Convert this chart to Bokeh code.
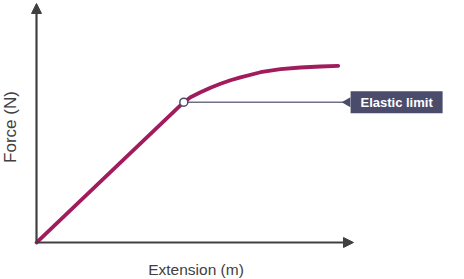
import math
from bokeh.plotting import figure
from bokeh.models import Range1d, Arrow, NormalHead, Label
from bokeh.core.properties import value
from bokeh.embed import file_html
from bokeh.resources import INLINE

# ---- data (arbitrary units) ----
extension = [0.0, 4.647, 4.858, 5.174, 5.489, 5.804, 6.120, 6.435, 7.066, 7.697, 8.328, 8.959, 9.517]
force = [0.0, 5.870, 6.079, 6.289, 6.473, 6.640, 6.787, 6.912, 7.125, 7.251, 7.322, 7.364, 7.393]
elastic_limit_ext = 4.647
elastic_limit_force = 5.870
axis_max = [10.0, 10.0]
x_title = "Extension (m)"
y_title = "Force (N)"
limit_text = "Elastic limit"

# ---- styling / layout ----
W, H = 464, 279
FONT = "Liberation Sans"
AXIS_COL = "#404040"
CURVE_COL = "#a01c5c"
BOX_COL = "#4b4b6b"
LINE_COL = "#707088"
LABEL_X = 11.36
LINE_END = 9.72

p = figure(width=W, height=H, output_backend="svg", toolbar_location=None,
           x_range=Range1d(-1.136, 13.502), y_range=Range1d(-1.548, 10.126),
           min_border=0, min_border_left=0, min_border_right=0,
           min_border_top=0, min_border_bottom=0)
p.axis.visible = False
p.grid.visible = False
p.outline_line_color = None
p.background_fill_color = "white"
p.border_fill_color = "white"

# axes with arrows
p.add_layout(Arrow(x_start=0, y_start=0, x_end=axis_max[0], y_end=0,
                   line_color=AXIS_COL, line_width=2.2,
                   end=NormalHead(size=10, fill_color=AXIS_COL, line_color=AXIS_COL)))
p.add_layout(Arrow(x_start=0, y_start=0, x_end=0, y_end=axis_max[1],
                   line_color=AXIS_COL, line_width=2.2,
                   end=NormalHead(size=10, fill_color=AXIS_COL, line_color=AXIS_COL)))

# elastic limit pointer line
p.line([elastic_limit_ext, LINE_END], [elastic_limit_force, elastic_limit_force],
       line_color=LINE_COL, line_width=1.5)

# curve
p.line(extension, force, line_color=CURVE_COL, line_width=3.8, line_cap="round", line_join="round")

# elastic limit point
p.scatter([elastic_limit_ext], [elastic_limit_force], size=8, marker="circle",
          fill_color="white", line_color=BOX_COL, line_width=1.5)

# label box + pointer triangle
p.rect([LABEL_X], [elastic_limit_force], width=92, height=22,
       width_units="screen", height_units="screen", fill_color=BOX_COL, line_color=None)
p.scatter([LINE_END + 0.09], [elastic_limit_force], marker="triangle", size=10,
          angle=math.pi / 2, fill_color=BOX_COL, line_color=None)
p.text([LABEL_X], [elastic_limit_force], text=[limit_text], text_align="center",
       text_baseline="middle", text_color="white", text_font=value(FONT),
       text_font_style="bold", text_font_size="13px")

# axis titles
p.add_layout(Label(x=195.5, y=H - 268.5, x_units="screen", y_units="screen", text=x_title,
                   text_align="center", text_baseline="middle", text_color=AXIS_COL,
                   text_font=FONT, text_font_size="15.5px"))
p.add_layout(Label(x=10, y=H - 126.5, x_units="screen", y_units="screen", text=y_title,
                   angle=math.pi / 2, text_align="center", text_baseline="middle",
                   text_color=AXIS_COL, text_font=FONT, text_font_size="17px"))

open("out.html", "w").write(file_html(p, INLINE))
